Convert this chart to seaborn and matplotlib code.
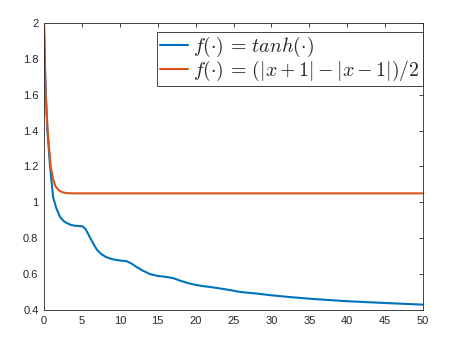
import matplotlib
matplotlib.use("Agg")
import matplotlib.pyplot as plt
import seaborn as sns
import numpy as np

# values
tanh_x = [0, 0.1, 0.25, 0.45, 0.8, 1.2, 1.6, 2.1, 2.6, 3.0, 3.5, 4.0, 4.6, 5.1,
          5.5, 6.0, 6.5, 7.0, 7.6, 8.2, 9.0, 10.0, 10.9, 11.5, 12.2, 13.0, 14.0,
          15.0, 16.0, 17.0, 18.0, 19.0, 20.0, 21.0, 22.0, 24.0, 26.0, 28.0, 30.0,
          33.0, 36.0, 40.0, 45.0, 50.0]
tanh_y = [2.0, 1.8, 1.6, 1.4, 1.2, 1.03, 0.97, 0.92, 0.895, 0.885, 0.875, 0.87,
          0.868, 0.866, 0.85, 0.81, 0.77, 0.735, 0.71, 0.695, 0.683, 0.676, 0.672,
          0.66, 0.64, 0.62, 0.60, 0.59, 0.585, 0.578, 0.563, 0.55, 0.54, 0.533,
          0.528, 0.515, 0.50, 0.492, 0.482, 0.47, 0.46, 0.449, 0.439, 0.43]

pwl_x = [0, 0.1, 0.22, 0.48, 0.88, 1.2, 1.5, 2.0, 2.5, 3.0, 4.0, 50.0]
pwl_y = [2.0, 1.8, 1.6, 1.4, 1.2, 1.13, 1.09, 1.065, 1.055, 1.051, 1.05, 1.05]

x_ticks = list(range(0, 51, 5))
y_ticks = [0.4, 0.6, 0.8, 1.0, 1.2, 1.4, 1.6, 1.8, 2.0]
y_tick_labels = ["0.4", "0.6", "0.8", "1", "1.2", "1.4", "1.6", "1.8", "2"]

labels = [r"$f(\cdot)\,=\,tanh(\cdot)$", r"$f(\cdot)\,=\,(|x+1| - |x-1|)/2$"]

sns.set_style("white")
plt.rcParams["font.family"] = ["Liberation Sans", "DejaVu Sans"]
plt.rcParams["mathtext.fontset"] = "cm"

fig = plt.figure(figsize=(4.76, 3.46), dpi=100)
ax = fig.add_axes([0.0924, 0.104, 0.7963, 0.830])

sns.lineplot(x=tanh_x, y=tanh_y, ax=ax, color="#0072BD", lw=1.5, label=labels[0])
sns.lineplot(x=pwl_x, y=pwl_y, ax=ax, color="#D95319", lw=1.5, label=labels[1])

ax.set_xlim(0, 50)
ax.set_ylim(0.4, 2)
ax.set_xticks(x_ticks)
ax.set_yticks(y_ticks)
ax.set_yticklabels(y_tick_labels)

axis_col = "#262626"
for s in ax.spines.values():
    s.set_visible(True)
    s.set_color(axis_col)
    s.set_linewidth(0.6)
ax.tick_params(direction="in", length=3, width=0.6, colors=axis_col,
               labelsize=8, top=True, right=True, pad=4)

leg = ax.legend(loc="upper right", bbox_to_anchor=(1.0, 0.968), fontsize=14.3,
                frameon=True, fancybox=False, framealpha=1, edgecolor=axis_col,
                borderpad=0.15, labelspacing=0.0, handlelength=1.45,
                handletextpad=0.25, borderaxespad=0.0)
leg.get_frame().set_linewidth(0.6)

fig.savefig("out.png", dpi=100)
